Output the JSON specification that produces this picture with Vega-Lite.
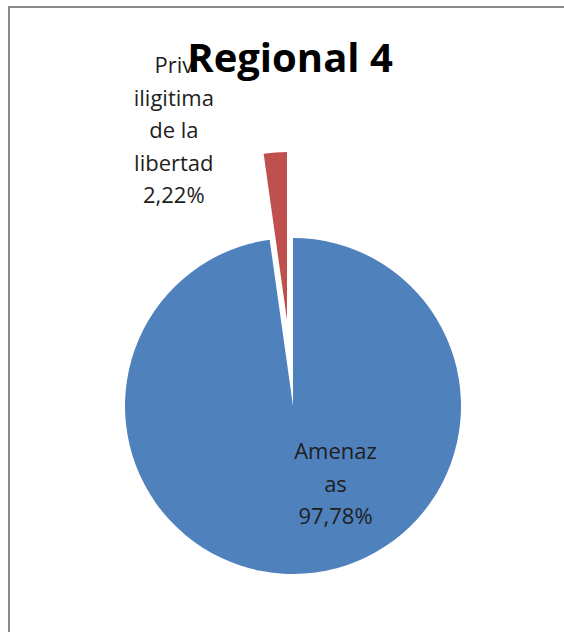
{
  "$schema": "https://vega.github.io/schema/vega-lite/v6.json",
  "autosize": {"type": "none"},
  "width": 555,
  "height": 625,
  "padding": {"left": 9, "top": 7, "right": 0, "bottom": 0},
  "background": "white",
  "view": {"stroke": null},
  "title": {
    "text": "Regional 4",
    "font": "Open Sans",
    "fontSize": 40,
    "fontWeight": "bold",
    "color": "#000000",
    "anchor": "middle",
    "frame": "group",
    "offset": -74,
    "dx": 3.5
  },
  "data": {
    "values": [
      {"categoria": "Amenazas", "porcentaje": 97.78, "etiqueta": "Amenaz\nas\n97,78%"},
      {"categoria": "Priv iligitima de la libertad", "porcentaje": 2.22, "etiqueta": "Priv\niligitima\nde la\nlibertad\n2,22%"}
    ]
  },
  "layer": [
    {
      "data": {"values": [{"marco": "borde"}]},
      "mark": {"type": "rect", "filled": false, "stroke": "#8a8a8a", "strokeWidth": 2, "x": 0, "y": 0, "x2": {"expr": "width + 30"}, "y2": {"expr": "height + 30"}},
      "encoding": {}
    },
    {
      "mark": {"type": "arc", "outerRadius": 168, "x": {"expr": "width/2 + 6.5"}, "y": {"expr": "height/2 + 86.5"}},
      "encoding": {
        "theta": {"field": "porcentaje", "type": "quantitative", "stack": true},
        "order": {"field": "porcentaje", "type": "quantitative", "sort": "descending"},
        "color": {"field": "categoria", "type": "nominal", "scale": {"domain": ["Amenazas", "Priv iligitima de la libertad"], "range": ["#4F81BD", "#C0504D"]}, "legend": null},
        "opacity": {"condition": {"test": "datum.categoria == 'Amenazas'", "value": 1}, "value": 0}
      }
    },
    {
      "mark": {"type": "arc", "outerRadius": 168, "x": {"expr": "width/2 + 0.5"}, "y": {"expr": "height/2 + 0.5"}},
      "encoding": {
        "theta": {"field": "porcentaje", "type": "quantitative", "stack": true},
        "order": {"field": "porcentaje", "type": "quantitative", "sort": "descending"},
        "color": {"field": "categoria", "type": "nominal", "scale": {"domain": ["Amenazas", "Priv iligitima de la libertad"], "range": ["#4F81BD", "#C0504D"]}, "legend": null},
        "opacity": {"condition": {"test": "datum.categoria == 'Amenazas'", "value": 0}, "value": 1}
      }
    },
    {
      "mark": {"type": "text", "radius": 79, "x": {"expr": "width/2 + 6.5"}, "y": {"expr": "height/2 + 86.5"}, "dx": 37, "dy": -32.5, "font": "Open Sans", "fontSize": 22, "lineBreak": "\n", "lineHeight": 32.5, "align": "center", "baseline": "middle"},
      "encoding": {
        "theta": {"field": "porcentaje", "type": "quantitative", "stack": true},
        "order": {"field": "porcentaje", "type": "quantitative", "sort": "descending"},
        "text": {"field": "etiqueta"},
        "color": {"value": "#1e1e1e"},
        "opacity": {"condition": {"test": "datum.categoria == 'Amenazas'", "value": 1}, "value": 0}
      }
    },
    {
      "mark": {"type": "text", "radius": 189, "x": {"expr": "width/2 + 0.5"}, "y": {"expr": "height/2 + 0.5"}, "dx": -100, "dy": -65, "font": "Open Sans", "fontSize": 22, "lineBreak": "\n", "lineHeight": 32.5, "align": "center", "baseline": "middle"},
      "encoding": {
        "theta": {"field": "porcentaje", "type": "quantitative", "stack": true},
        "order": {"field": "porcentaje", "type": "quantitative", "sort": "descending"},
        "text": {"field": "etiqueta"},
        "color": {"value": "#1e1e1e"},
        "opacity": {"condition": {"test": "datum.categoria == 'Amenazas'", "value": 0}, "value": 1}
      }
    }
  ]
}
